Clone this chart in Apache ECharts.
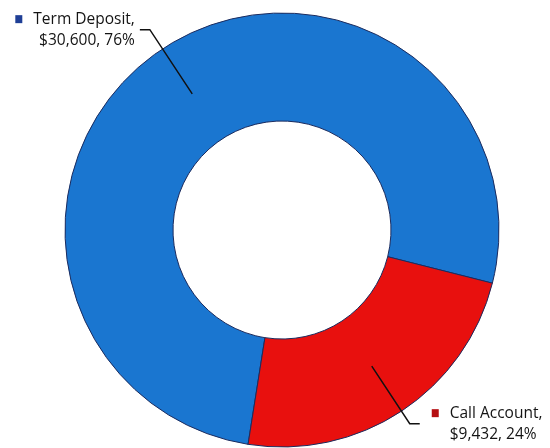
<!DOCTYPE html>
<html>
<head>
<meta charset="utf-8">
<script src="https://cdn.jsdelivr.net/npm/echarts@6/dist/echarts.min.js"></script>
<style>
  html, body { margin: 0; padding: 0; background: #fff; }
  #chart { width: 550px; height: 448px; }
</style>
</head>
<body>
<div id="chart"></div>
<script>
// deposits split: donut + labels with legend squares
const categories = ["Term Deposit", "Call Account"];
const amounts = [30600, 9432];
const sliceColors = ["#1a76d0", "#e8100e"];
const markColors = ["#1f3f96", "#b50f12"];

const money = v => "$" + v.toLocaleString("en-US");

const chart = echarts.init(document.getElementById("chart"));

const ringData = categories.map((c, i) => ({
  name: c, value: amounts[i],
  itemStyle: { color: sliceColors[i] }
}));

const labelData = categories.map((c, i) => ({
  name: c, value: amounts[i],
  labelLine: i === 0 ? { length: 77, length2: 10 } : { length: 69, length2: 10 },
  label: { distanceToLabelLine: i === 0 ? 5 : 12, rich: { m: { backgroundColor: markColors[i] } } }
}));

chart.setOption({
  animation: false,
  series: [
    {
      type: "pie",
      z: 1,
      center: [282, 230],
      radius: [109, 217],
      startAngle: 261,
      silent: true,
      label: { show: false },
      labelLine: { show: false },
      itemStyle: { borderColor: "#1b2b5e", borderWidth: 1 },
      data: ringData
    },
    {
      // invisible pie ending mid-ring, only for labels & leader lines
      type: "pie",
      z: 5,
      center: [282, 230],
      radius: [0, 163],
      startAngle: 261,
      silent: true,
      percentPrecision: 0,
      avoidLabelOverlap: false,
      itemStyle: { color: "rgba(0,0,0,0)" },
      labelLine: { show: true, smooth: false, lineStyle: { color: "#111", width: 1.5 } },
      label: {
        show: true,
        color: "#141414",
        fontFamily: "Open Sans",
        fontSize: 15.5,
        lineHeight: 21,
        formatter: p => `{m|}{g|}${p.name},\n{s|}${money(p.value)}, ${p.percent}%`,
        rich: {
          m: { width: 7, height: 8 },
          g: { width: 11 },
          s: { width: 18 }
        }
      },
      data: labelData
    }
  ]
});
</script>
</body>
</html>
